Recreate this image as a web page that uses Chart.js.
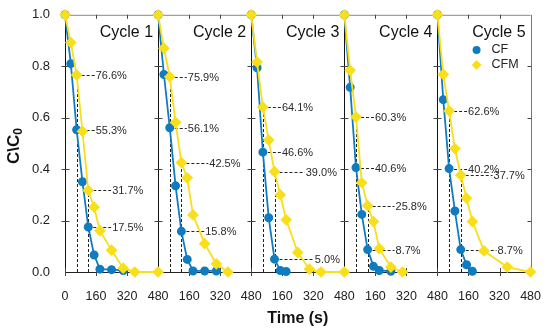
<!DOCTYPE html>
<html>
<head>
<meta charset="utf-8">
<script src="https://cdn.jsdelivr.net/npm/chart.js@4.4.1/dist/chart.umd.min.js"></script>
<style>
  html, body { margin: 0; padding: 0; background: #fff; }
  #wrap { width: 550px; height: 333px; position: relative; }
</style>
</head>
<body>
<div id="wrap"><canvas id="chart"></canvas></div>
<script>
// five cycles, each panel is 0..480 s
const cycles = ['Cycle 1', 'Cycle 2', 'Cycle 3', 'Cycle 4', 'Cycle 5'];
const panelSpan = 480;
const xTicks = [0, 160, 320, 480];
const yTicks = [0, 0.2, 0.4, 0.6, 0.8, 1.0];

const cfTime = [
  [0, 30, 60, 90, 120, 150, 180, 240, 300],
  [0, 30, 60, 90, 120, 150, 180, 240, 300],
  [0, 30, 60, 90, 120, 150, 180],
  [0, 30, 60, 90, 120, 150, 180, 240],
  [0, 30, 60, 90, 120, 150, 180]
];
const cfValue = [
  [1.0, 0.81, 0.553, 0.351, 0.175, 0.066, 0.011, 0.009, 0.006],
  [1.0, 0.768, 0.561, 0.335, 0.158, 0.049, 0.004, 0.004, 0.004],
  [1.0, 0.794, 0.466, 0.211, 0.050, 0.006, 0.002],
  [1.0, 0.718, 0.406, 0.224, 0.087, 0.022, 0.006, 0.003],
  [1.0, 0.670, 0.402, 0.237, 0.087, 0.028, 0.003]
];

const cfmTime = [
  [0, 30, 60, 90, 120, 150, 180, 240, 300, 360, 480],
  [0, 30, 60, 90, 120, 150, 180, 240, 300, 360],
  [0, 30, 60, 90, 120, 150, 180, 240, 300, 360, 480],
  [0, 30, 60, 90, 120, 150, 180, 240, 300],
  [0, 30, 60, 90, 120, 150, 180, 240, 360, 480]
];
const cfmValue = [
  [1.0, 0.892, 0.766, 0.547, 0.317, 0.252, 0.161, 0.085, 0.015, 0.0, 0.0],
  [1.0, 0.87, 0.759, 0.582, 0.425, 0.366, 0.222, 0.11, 0.032, 0.0],
  [1.0, 0.816, 0.641, 0.513, 0.390, 0.30, 0.203, 0.076, 0.011, 0.0, 0.0],
  [1.0, 0.784, 0.603, 0.347, 0.258, 0.196, 0.091, 0.019, 0.0],
  [1.0, 0.768, 0.626, 0.48, 0.377, 0.287, 0.196, 0.082, 0.019, 0.0]
];

// percentage callouts: [cycle index, time, label, time where label starts]
const notes = [
  [0, 60, '76.6%', 158], [0, 60, '55.3%', 158], [0, 120, '31.7%', 243], [0, 120, '17.5%', 243],
  [1, 60, '75.9%', 153], [1, 60, '56.1%', 153], [1, 120, '42.5%', 264], [1, 120, '15.8%', 243],
  [2, 60, '64.1%', 158], [2, 60, '46.6%', 158], [2, 120, '39.0%', 281], [2, 120, '5.0%', 328],
  [3, 60, '60.3%', 158], [3, 60, '40.6%', 158], [3, 120, '25.8%', 264], [3, 120, '8.7%', 264],
  [4, 60, '62.6%', 158], [4, 60, '40.2%', 158], [4, 120, '37.7%', 289], [4, 120, '8.7%', 310]
];

const blue = '#0f7cc1';
const yellow = '#f9df1b';
const font = '"Liberation Sans", Arial, sans-serif';

const datasets = [];
cycles.forEach((c, k) => {
  datasets.push({
    label: 'CFM',
    data: cfmTime[k].map((t, i) => ({ x: t + panelSpan * k, y: cfmValue[k][i] })),
    borderColor: yellow,
    backgroundColor: yellow,
    pointStyle: 'rectRot',
    pointRadius: 4.6,
    borderWidth: 1.8,
    clip: false,
    order: 0
  });
});
cycles.forEach((c, k) => {
  datasets.push({
    label: 'CF',
    data: cfTime[k].map((t, i) => ({ x: t + panelSpan * k, y: cfValue[k][i] })),
    borderColor: blue,
    backgroundColor: blue,
    pointStyle: 'circle',
    pointRadius: 3.6,
    borderWidth: 1.8,
    clip: false,
    order: 1
  });
});

const panels = {
  id: 'panels',
  beforeDatasetsDraw(chart) {
    const { ctx, chartArea: a, scales: { x, y } } = chart;
    ctx.save();

    // panel frames
    ctx.setLineDash([]);
    ctx.lineWidth = 1;
    ctx.strokeStyle = '#888';
    ctx.beginPath();
    ctx.moveTo(a.left, a.top + 0.5); ctx.lineTo(a.right, a.top + 0.5);
    ctx.stroke();
    ctx.strokeStyle = '#222';
    ctx.beginPath();
    ctx.moveTo(a.left, Math.round(a.bottom) + 0.5); ctx.lineTo(a.right, Math.round(a.bottom) + 0.5);
    ctx.stroke();
    for (let k = 0; k <= cycles.length; k++) {
      const px = Math.round(x.getPixelForValue(panelSpan * k)) + 0.5;
      ctx.strokeStyle = k === cycles.length ? '#777' : '#111';
      ctx.beginPath();
      ctx.moveTo(px, a.top); ctx.lineTo(px, a.bottom);
      ctx.stroke();
      // y ticks on every panel edge
      ctx.strokeStyle = '#444';
      yTicks.slice(1, -1).forEach(v => {
        const py = Math.round(y.getPixelForValue(v)) + 0.5;
        ctx.beginPath();
        ctx.moveTo(px - 4, py);
        ctx.lineTo(k === cycles.length ? px : px + 4, py);
        ctx.stroke();
      });
    }
    // x ticks
    ctx.strokeStyle = '#444';
    cycles.forEach((c, k) => {
      xTicks.forEach(t => {
        const px = Math.round(x.getPixelForValue(t + panelSpan * k)) + 0.5;
        ctx.beginPath();
        ctx.moveTo(px, a.bottom - 4); ctx.lineTo(px, a.bottom + 4);
        ctx.stroke();
        if (t > 0 && t < panelSpan) {
          ctx.beginPath();
          ctx.moveTo(px, a.top); ctx.lineTo(px, a.top + 4);
          ctx.stroke();
        }
      });
    });

    // dashed callouts
    ctx.strokeStyle = '#222';
    ctx.setLineDash([3, 2]);
    const tops = {};
    notes.forEach(([k, t, label]) => {
      const key = k + ':' + t;
      const v = parseFloat(label) / 100;
      tops[key] = Math.max(tops[key] || 0, v);
    });
    Object.keys(tops).forEach(key => {
      const [k, t] = key.split(':').map(Number);
      const px = Math.round(x.getPixelForValue(t + panelSpan * k)) + 0.5;
      ctx.beginPath();
      ctx.moveTo(px, y.getPixelForValue(0));
      ctx.lineTo(px, y.getPixelForValue(tops[key]));
      ctx.stroke();
    });
    ctx.fillStyle = '#2a2a2a';
    ctx.font = '11px ' + font;
    ctx.textBaseline = 'middle';
    ctx.textAlign = 'left';
    notes.forEach(([k, t, label, lt]) => {
      const v = parseFloat(label) / 100;
      const py = Math.round(y.getPixelForValue(v)) + 0.5;
      const x0 = x.getPixelForValue(t + panelSpan * k);
      const x1 = x.getPixelForValue(lt + panelSpan * k);
      ctx.beginPath();
      ctx.moveTo(x0, py); ctx.lineTo(x1 - 1, py);
      ctx.stroke();
      ctx.fillText(label, x1, py);
    });
    ctx.restore();
  },
  afterDraw(chart) {
    const { ctx, chartArea: a, scales: { x } } = chart;
    ctx.save();
    ctx.fillStyle = '#111';
    ctx.font = '16px ' + font;
    ctx.textAlign = 'right';
    ctx.textBaseline = 'middle';
    cycles.forEach((c, k) => {
      ctx.fillText(c, x.getPixelForValue(panelSpan * (k + 1)) - 5, a.top + 18);
    });

    // legend inside the last panel
    const lx = a.right - 54;
    ctx.fillStyle = blue;
    ctx.beginPath();
    ctx.arc(lx, 50, 4, 0, Math.PI * 2);
    ctx.fill();
    ctx.fillStyle = yellow;
    ctx.beginPath();
    ctx.moveTo(lx, 65 - 5); ctx.lineTo(lx + 5, 65); ctx.lineTo(lx, 65 + 5); ctx.lineTo(lx - 5, 65);
    ctx.closePath();
    ctx.fill();
    ctx.fillStyle = '#222';
    ctx.font = '12.5px ' + font;
    ctx.textAlign = 'left';
    ctx.fillText('CF', lx + 15, 50);
    ctx.fillText('CFM', lx + 15, 65);

    // axis titles
    ctx.fillStyle = '#111';
    ctx.font = 'bold 16px ' + font;
    ctx.textAlign = 'center';
    ctx.fillText('Time (s)', (a.left + a.right) / 2, 319);

    ctx.translate(14, 146);
    ctx.rotate(-Math.PI / 2);
    ctx.font = 'bold 17px ' + font;
    const w1 = ctx.measureText('C\\C').width;
    ctx.font = 'bold 12px ' + font;
    const w2 = ctx.measureText('0').width;
    ctx.textAlign = 'left';
    ctx.font = 'bold 17px ' + font;
    ctx.fillText('C\\C', -(w1 + w2) / 2, 0);
    ctx.font = 'bold 12px ' + font;
    ctx.fillText('0', -(w1 + w2) / 2 + w1, 5);
    ctx.restore();
  }
};

new Chart(document.getElementById('chart'), {
  type: 'line',
  data: { datasets },
  options: {
    responsive: true,
    maintainAspectRatio: false,
    animation: false,
    devicePixelRatio: 1,
    layout: { padding: { top: 9, right: 14, left: 0, bottom: 0 } },
    plugins: { legend: { display: false }, tooltip: { enabled: false } },
    scales: {
      x: {
        type: 'linear',
        min: 0,
        max: panelSpan * cycles.length,
        afterBuildTicks: s => {
          s.ticks = [];
          cycles.forEach((c, k) => xTicks.forEach(t => {
            if (k === 0 || t > 0) s.ticks.push({ value: t + panelSpan * k });
          }));
        },
        afterFit: s => { s.height = 61; },
        grid: { display: false },
        border: { display: false },
        ticks: {
          autoSkip: false,
          maxRotation: 0,
          padding: 9,
          color: '#222',
          font: { family: font, size: 12.5 },
          callback: v => v === 0 ? '0' : String(((v - 1) % panelSpan) + 1)
        }
      },
      y: {
        min: 0,
        max: 1,
        afterBuildTicks: s => { s.ticks = yTicks.map(v => ({ value: v })); },
        afterFit: s => { s.width = 65; },
        grid: { display: false },
        border: { display: false },
        ticks: {
          padding: 7,
          color: '#222',
          font: { family: font, size: 13 },
          callback: v => v.toFixed(1)
        }
      }
    }
  },
  plugins: [panels]
});
</script>
</body>
</html>
